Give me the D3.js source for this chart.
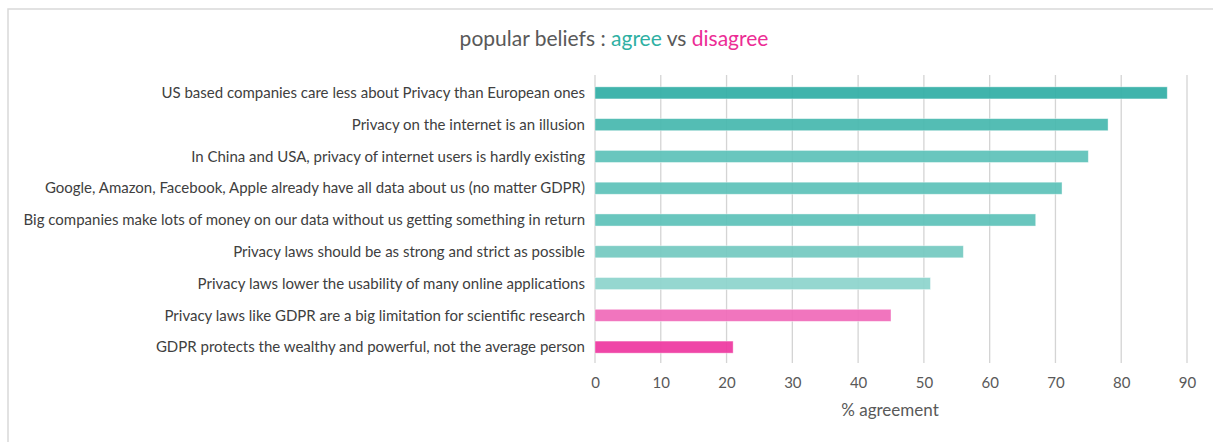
<!DOCTYPE html>
<html>
<head>
<meta charset="utf-8">
<script src="https://cdn.jsdelivr.net/npm/d3@7/dist/d3.min.js"></script>
<style>
  html,body{margin:0;padding:0;background:#fff;}
  svg{display:block;font-family:Lato,"Open Sans",sans-serif;}
</style>
</head>
<body>
<svg id="chart" width="1213" height="442"></svg>
<script>
// ── data ──
const statements=[
  'US based companies care less about Privacy than European ones',
  'Privacy on the internet is an illusion',
  'In China and USA, privacy of internet users is hardly existing',
  'Google, Amazon, Facebook, Apple already have all data about us (no matter GDPR)',
  'Big companies make lots of money on our data without us getting something in return',
  'Privacy laws should be as strong and strict as possible',
  'Privacy laws lower the usability of many online applications',
  'Privacy laws like GDPR are a big limitation for scientific research',
  'GDPR protects the wealthy and powerful, not the average person'
];
const agreement=[87,78,75,71,67,56,51,45,21];
const barColors=['#31aea6','#47b8ae','#5ec2b9','#5ec2b9','#5ec2b9','#74c9c1','#8dd4cc','#f06bb9','#ee38a0'];
const xTicks=[0,10,20,30,40,50,60,70,80,90];

const W=1213,H=442;
const plot={left:595,right:1187,top:77,bottom:363};
const svg=d3.select('#chart');

// frame
svg.append('rect').attr('x',8).attr('y',9).attr('width',W).attr('height',H)
  .attr('fill','none').attr('stroke','#d9d9d9').attr('stroke-width',1.5);

const x=d3.scaleLinear().domain([0,90]).range([plot.left,plot.right]);
const y=d3.scaleBand().domain(statements).range([plot.top,plot.bottom]).paddingInner(0.62).paddingOuter(0.31);

// gridlines
svg.append('g').selectAll('line').data(xTicks).join('line')
  .attr('x1',d=>x(d)).attr('x2',d=>x(d))
  .attr('y1',plot.top-2).attr('y2',plot.bottom)
  .attr('stroke','#d4d4d4').attr('stroke-width',1.3);

// bars
svg.append('g').selectAll('rect').data(agreement).join('rect')
  .attr('x',x(0)).attr('y',(d,i)=>y(statements[i]))
  .attr('width',d=>x(d)-x(0)).attr('height',y.bandwidth())
  .attr('fill',(d,i)=>barColors[i]).attr('fill-opacity',0.93)
  .attr('stroke','#fff').attr('stroke-opacity',0.5).attr('stroke-width',0.8);

// category labels
svg.append('g').selectAll('text').data(statements).join('text')
  .attr('x',plot.left-10).attr('y',d=>y(d)+y.bandwidth()/2)
  .attr('dy','0.35em').attr('text-anchor','end')
  .attr('font-size',15).attr('fill','#404040')
  .text(d=>d);

// x axis
const xAxis=d3.axisBottom(x).tickValues(xTicks).tickSize(0).tickPadding(14);
const gx=svg.append('g').attr('transform',`translate(0,${plot.bottom})`).call(xAxis);
gx.select('.domain').remove();
gx.selectAll('text').attr('font-size',15).attr('fill','#595959').attr('font-family','Lato,"Open Sans",sans-serif');

svg.append('text').attr('x',(plot.left+plot.right)/2-1).attr('y',416)
  .attr('text-anchor','middle').attr('font-size',17).attr('fill','#595959')
  .text('% agreement');

// title
const title=svg.append('text').attr('x',614).attr('y',46).attr('text-anchor','middle')
  .attr('font-size',21).attr('fill','#595959');
title.append('tspan').text('popular beliefs : ');
title.append('tspan').attr('fill','#2eb0a3').text('agree');
title.append('tspan').text(' vs ');
title.append('tspan').attr('fill','#ec2c95').text('disagree');
</script>
</body>
</html>
